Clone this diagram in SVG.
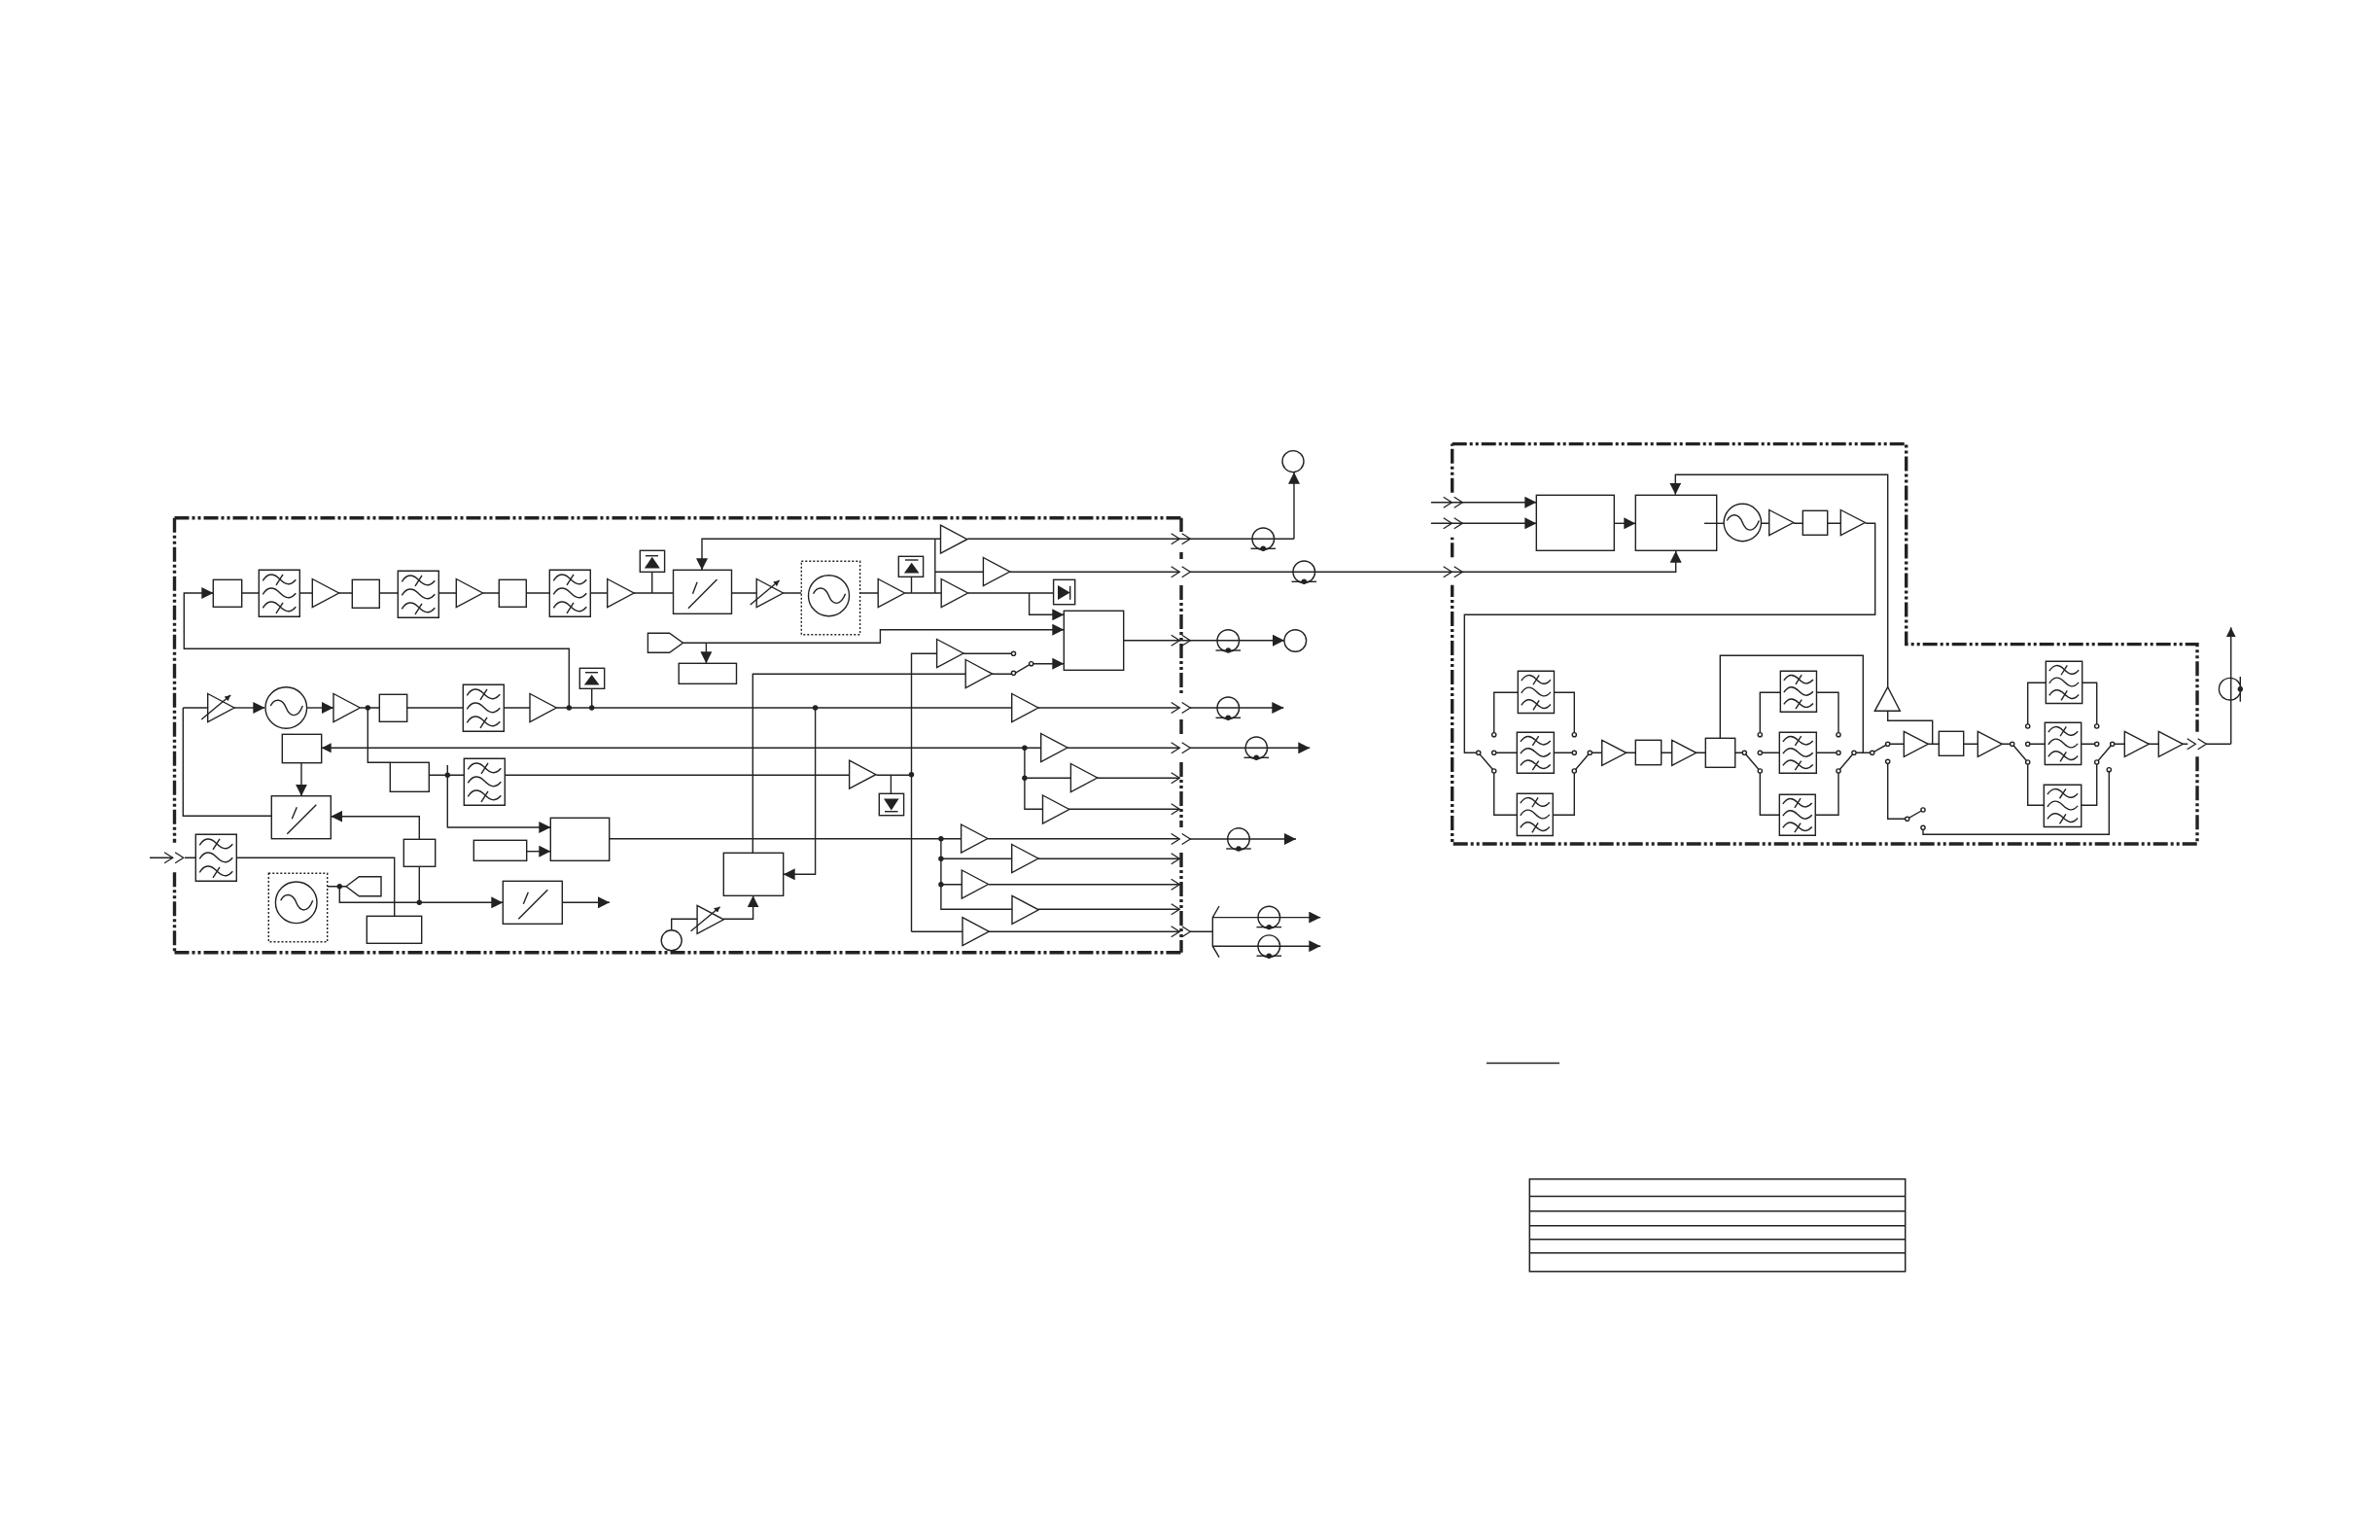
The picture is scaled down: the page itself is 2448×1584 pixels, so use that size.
<svg xmlns="http://www.w3.org/2000/svg" width="2448" height="1584" viewBox="0 0 2448 1584">
<style>
path,line,polyline,polygon,rect,circle{stroke:#222;stroke-width:1.4;fill:none}
.w{fill:#fff}
.bd{stroke:#222;stroke-width:3.4;fill:none;stroke-dasharray:15 3 3 3 3 3}
.k{fill:#222;stroke:none}
.a{marker-end:url(#ah)}
.s{marker-end:url(#as)}
.v{vector-effect:non-scaling-stroke}
.thin{stroke-width:1.3}
.dot{fill:#222;stroke:none}
.tb{stroke-width:1.5}
</style>
<defs>
<marker id="ah" markerUnits="userSpaceOnUse" markerWidth="12" markerHeight="12" refX="12" refY="6" orient="auto"><path d="M0 0L12 6L0 12Z" style="fill:#222;stroke:none"/></marker>
<marker id="as" markerUnits="userSpaceOnUse" markerWidth="10" markerHeight="10" refX="10" refY="5" orient="auto"><path d="M0 0L10 5L0 10Z" style="fill:#222;stroke:none"/></marker>
<marker id="at" markerUnits="userSpaceOnUse" markerWidth="6" markerHeight="6" refX="6" refY="3" orient="auto"><path d="M0 0L6 3L0 6Z" style="fill:#222;stroke:none"/></marker>
<g id="f"><rect class="w v" width="42" height="48"/><path class="v" d="M4 11C9 3 15 3 21 9S32 17 38 10M17.7 15.5L24.7 4.5M4 25C9 17 15 17 21 23S32 31 38 24M4 39C9 31 15 31 21 37S32 45 38 38M17.7 44.5L24.7 33.5"/></g>
<polygon id="a" class="w" points="0,-14.5 27.3,0 0,14.5"/>
<polygon id="b" class="w" points="0,-13 25,0 0,13"/>
<g id="va"><polygon points="0,-14.5 27.3,0 0,14.5"/><line x1="-6.5" y1="12" x2="23.5" y2="-13" style="marker-end:url(#at)"/></g>
<path id="sin" d="M-16-2C-12-10-4-10 0 0S12 11 17-2"/>
<g id="mx"><rect class="w" width="61" height="44"/><path d="M16 39L46 9M21 23.5L26 11.5"/></g>
<path id="cc" class="thin" d="M-8.6-5.5L0 0L-8.6 5.5M2.4-5.5L11 0L2.4 5.5"/>
<path id="c1" class="thin" d="M-8.6-5.5L0 0L-8.6 5.5"/>
<g id="cx"><circle r="11.3"/><circle class="dot" cy="10" r="2.7"/><line x1="-12.8" y1="10" x2="12.8" y2="10"/></g>
<circle id="t" class="w" r="2.1"/>
</defs>
<g id="borders">
<path class="bd" d="M179.5 532.8H1215"/>
<path class="bd" d="M179.5 979.8H1215"/>
<path class="bd" d="M179.5 532.8V866.7M179.5 897.3V979.8"/>
<path class="bd" d="M1215 532.8V547M1215 568V575M1215 602V715M1215 740V755M1215 784V851M1215 877V979.8"/>
<path class="bd" d="M1493.7 456.6H1960.7V662.6H2260V752.7M2260 778.3V868H1493.7V601.7M1493.7 573.3V552.7M1493.7 506.7V456.6"/>
</g>
<g id="connectors">
<path class="a" d="M585.3 728V667.3H189.3V610H219.3"/>
<path d="M248.7 610H266M308 610H321M348.3 610H362M390 610H409M451 610H469M496.7 610H513M541 610H565M607 610H624.7M652 610H692.5M752.5 610H778M805.4 610H824.3M884.6 610H903M930.7 610H968.2M937.5 593.3V610M670.7 588.3V610M961.8 554.3V610M961.8 588.3H1011.4"/>
<path class="a" d="M967.5 554.3H722V586.3"/>
<path d="M995 554.3H1331"/>
<path class="a" d="M1331 554.3V485.7"/>
<path d="M1038.6 588.3H1213.3M1224 588.3H1503M995.7 610H1083.6"/>
<path class="a" d="M1503 588.3H1723.7V566.7"/>
<path class="a" d="M1058.6 610V632.3H1094.3"/>
<path class="a" d="M702.5 661.3H905.4V647.7H1094.3"/>
<path class="a" d="M726.4 661.3V682.3"/>
<path d="M937.5 958.3V672.3H963.6M990.7 672.3H1040.5M774.3 877.3V693.3H993.2M1020.4 693.3H1042.5L1060.7 682.7"/>
<path class="a" d="M1062.7 682.7H1094.3"/>
<path class="a" d="M1155.7 658.7H1321"/>
<path d="M188.3 728H213.7M188.3 728V839.3H279.3"/>
<path class="a" d="M241 728H272.3"/>
<path class="a" d="M315.7 728H343"/>
<path d="M370.7 728H390.3M418.7 728H476.3M518.7 728H545M572.3 728H1040.7M1067.9 728H1213.3M1224 728H1271"/>
<path class="a" d="M1271 728H1320.3"/>
<path d="M608.7 708.3V728"/>
<path class="a" d="M838.6 728V899.3H805.7"/>
<path class="s" d="M1070.7 769.3H330.7"/>
<path d="M1098.2 769.3H1213.3M1053.9 769.3V832.3H1072.5M1053.9 800.3H1101.4M1128.2 800.3H1213.3M1099.3 832.3H1213.3"/>
<path class="a" d="M1224 769.3H1347.3"/>
<path class="a" d="M310 784.7V818.7"/>
<path d="M378.3 728V784.3H401.3M441.3 797.3H477.3M519.7 797.3H873.6M901.4 797.3H937.5M916.4 797.3V816.3M460.3 787V797.3"/>
<path class="a" d="M460.3 797.3V851H566.3"/>
<path class="a" d="M541.7 875.7H566.3"/>
<path d="M626.7 862.7H988.6M1016 862.7H1213.3M967.9 862.7V935.3H1041M967.9 883.3H1040.7M967.9 909.7H989.3M1067.5 883.3H1213.3M1017 909.7H1213.3M1067.9 935.3H1213.3M937.5 958.3H990M1017 958.3H1213.3"/>
<path class="a" d="M1224 863H1333"/>
<path d="M1224 958.3H1247.3M1254 932L1247.3 943.6V973.2L1254 984.6"/>
<path class="a" d="M1247.3 943.6H1358.3"/>
<path class="a" d="M1247.3 973.2H1358.3"/>
<path class="a" d="M690.7 957V945.3H717.1M744 945.3H774.6V921.3"/>
<path d="M154 882.3H177.7M190 882.3H201.3M243.7 882.3H405.7V942.3"/>
<path class="a" d="M431.3 863.3V839.7H340.3"/>
<path d="M431.3 891.3V928.3M336.7 911.7H356"/>
<path class="a" d="M349.3 911.7V928.3H517.3"/>
<path class="a" d="M578.3 928.3H627"/>
<path class="a" d="M1472 516.7H1580.3"/>
<path class="a" d="M1472 538.3H1580.3"/>
<path class="a" d="M1660.3 538.3H1682.3"/>
<path class="a" d="M1941.7 706.7V488.3H1723.3V508.7"/>
<path d="M1811.3 538.3H1819.7M1844.7 538.3H1854.3M1879.7 538.3H1893.3M1918.7 538.3H1928.7V632.3H1506.3V774.3H1520.7"/>
<path d="M1941.7 731.3V741.3H1987.7V765.3"/>
<path d="M1536.7 755.7V712.3H1561.3M1598.3 712.3H1619.3V755.7M1536.7 774.3H1560.3M1598.3 774.3H1619.3M1536.7 793V838.3H1560.3M1597.3 838.3H1619.3V793M1635.3 774.3H1647.7M1672 774.3H1682.3M1708.7 774.3H1719.7M1744.3 774.3H1754.3M1784.7 774.3H1794.3M1769.3 759.3V674.3H1916.3V774.3M1520.7 774.3L1536.7 793M1619.3 793L1635.3 774.3"/>
<path d="M1810.3 755.7V712.3H1831.3M1868.3 712.3H1891V755.7M1810.3 774.3H1830.3M1868.3 774.3H1891M1810.3 793V838.3H1830.3M1867.3 838.3H1891V793M1794.3 774.3L1810.3 793M1891 793L1907 774.3M1907 774.3H1925.7L1941.7 765.3H1958.3M1941.7 783.3V842.3H1961.7L1978 833M1978 851.3V858.3H2169.3V791.7"/>
<path d="M1983.3 765.3H1994.3M2019.7 765.3H2034.3M2059.3 765.3H2069.7L2085.7 784M2085.7 747V702.3H2104.3M2141.7 702.3H2156.7V747M2085.7 765.3H2103.3M2140.7 765.3H2156.7M2085.7 784V828.3H2102.3M2140.7 828.3H2156.7V784L2172.7 765.3H2185.3M2210 765.3H2220.3M2245.3 765.3H2250.3M2269 765.3H2294.7"/>
<path class="s" d="M2294.7 765.3V645.3"/>
<g id="chevrons">
<use href="#cc" x="1213.3" y="554.3"/><use href="#cc" x="1213.3" y="588.3"/><use href="#cc" x="1213.3" y="658.7"/><use href="#cc" x="1213.3" y="728"/><use href="#cc" x="1213.3" y="769.3"/><use href="#cc" x="1213.3" y="863"/><use href="#cc" x="1213.3" y="958.3"/>
<use href="#c1" x="1213.3" y="800.3"/><use href="#c1" x="1213.3" y="832.3"/><use href="#c1" x="1213.3" y="883.3"/><use href="#c1" x="1213.3" y="909.7"/><use href="#c1" x="1213.3" y="935.3"/>
<use href="#cc" x="177.7" y="882.3"/>
<use href="#cc" x="1493.3" y="516.7"/><use href="#cc" x="1493.3" y="538.3"/><use href="#cc" x="1493.3" y="588.3"/>
<use href="#cc" x="2258.3" y="765.3"/>
</g>
<g id="dots">
<circle class="dot" cx="378.3" cy="728" r="2.7"/><circle class="dot" cx="585.3" cy="728" r="2.7"/><circle class="dot" cx="608.7" cy="728" r="2.7"/><circle class="dot" cx="838.6" cy="728" r="2.7"/><circle class="dot" cx="1053.9" cy="769.3" r="2.7"/><circle class="dot" cx="1053.9" cy="800.3" r="2.7"/><circle class="dot" cx="460.3" cy="797.3" r="2.7"/><circle class="dot" cx="937.5" cy="796.7" r="2.7"/><circle class="dot" cx="967.9" cy="862.7" r="2.7"/><circle class="dot" cx="967.9" cy="883.3" r="2.7"/><circle class="dot" cx="967.9" cy="909.7" r="2.7"/><circle class="dot" cx="431.3" cy="928.3" r="2.7"/><circle class="dot" cx="349.3" cy="911.7" r="2.7"/>
</g>
</g>
<g id="box1"><rect class="w" x="219.3" y="596.3" width="29.4" height="28"/></g>
<g id="filter1"><use href="#f" x="266.3" y="586.3"/></g>
<g id="amp1"><use href="#a" x="321.3" y="610"/></g>
<g id="box2"><rect class="w" x="362.3" y="596.3" width="28" height="29"/></g>
<g id="filter2"><use href="#f" x="409.3" y="587.3"/></g>
<g id="amp2"><use href="#a" x="469.3" y="610"/></g>
<g id="box3"><rect class="w" x="513.3" y="596.3" width="28" height="28"/></g>
<g id="filter3"><use href="#f" x="565.3" y="586.3"/></g>
<g id="amp3"><use href="#a" x="624.7" y="610"/></g>
<g id="det1"><rect class="w" x="658.3" y="566.3" width="25.3" height="22"/><polygon class="k" points="662.8,584.5 670.8,572.8 678.8,584.5"/><line x1="664" y1="571.7" x2="677" y2="571.7"/></g>
<g id="mixer1"><rect class="w" x="692.5" y="586.3" width="60" height="45"/><path d="M707.9 625.7L737.5 596M712.5 610.7L717.1 598.7"/></g>
<g id="vamp1"><use href="#va" x="778.2" y="610"/></g>
<g id="osc1"><rect class="w" x="824.3" y="577.3" width="60.3" height="75.4" style="stroke-dasharray:2 2"/><circle cx="852.5" cy="612.7" r="21"/><use href="#sin" x="852.5" y="612.7"/></g>
<g id="amp4"><use href="#a" x="903.2" y="610"/></g>
<g id="det2"><rect class="w" x="924.3" y="572.3" width="25.3" height="21"/><polygon class="k" points="929.9,589.5 937.7,578.8 945.5,589.5"/><line x1="931" y1="576" x2="944.5" y2="576"/></g>
<g id="amp5"><use href="#a" x="967.5" y="554.7"/></g>
<g id="amp6"><use href="#a" x="1011.4" y="588"/></g>
<g id="amp7"><use href="#a" x="968.2" y="610"/></g>
<g id="det3"><rect class="w" x="1083.6" y="596.3" width="22.1" height="25.4"/><polygon class="k" points="1088,602 1100.7,609.5 1088,617"/><line x1="1100.7" y1="602.7" x2="1100.7" y2="616.7"/></g>
<g id="bigbox1"><rect class="w" x="1094.3" y="628.3" width="61.4" height="61"/></g>
<g id="pent1"><polygon class="w" points="666.4,651.3 688.6,651.3 702.5,661.3 688.6,671.3 666.4,671.3"/></g>
<g id="box4"><rect class="w" x="698.2" y="682.3" width="59.3" height="21"/></g>
<g id="amp8"><use href="#a" x="963.6" y="672"/></g>
<g id="amp9"><use href="#a" x="993.2" y="693"/></g>
<g id="sw1"><use href="#t" x="1042.5" y="672.3"/><use href="#t" x="1042.5" y="692.3"/><use href="#t" x="1060.7" y="682.7"/></g>
<g id="vamp2"><use href="#va" x="213.7" y="728"/></g>
<g id="osc2"><circle class="w" cx="294.3" cy="728" r="21.3"/><use href="#sin" x="294.3" y="728"/></g>
<g id="amp10"><use href="#a" x="343" y="728"/></g>
<g id="box5"><rect class="w" x="390.3" y="714.3" width="28.4" height="28"/></g>
<g id="filter4"><use href="#f" x="476.3" y="704.3"/></g>
<g id="amp11"><use href="#a" x="545" y="728"/></g>
<g id="det4"><rect class="w" x="596.3" y="687.3" width="25.4" height="21"/><polygon class="k" points="600.8,704.5 608.7,694 616.6,704.5"/><line x1="602" y1="691.7" x2="615" y2="691.7"/></g>
<g id="amp12"><use href="#a" x="1040.7" y="728"/></g>
<g id="box6"><rect class="w" x="290.3" y="755.3" width="40.4" height="29.4"/></g>
<g id="mixer2"><use href="#mx" x="279.3" y="818.7"/></g>
<g id="box7"><rect class="w" x="401.3" y="784.3" width="40" height="30"/></g>
<g id="filter5"><use href="#f" x="477.3" y="780.3"/></g>
<g id="amp13"><use href="#a" x="1070.7" y="769"/></g>
<g id="amp14"><use href="#a" x="1101.4" y="800"/></g>
<g id="amp15"><use href="#a" x="1072.5" y="832.5"/></g>
<g id="amp16"><use href="#a" x="873.6" y="796.7"/></g>
<g id="det5"><rect class="w" x="904.3" y="816.3" width="25.3" height="22.4"/><polygon class="k" points="909,821.5 924.6,821.5 916.8,833.5"/><line x1="910" y1="834.7" x2="923.5" y2="834.7"/></g>
<g id="bigbox2"><rect class="w" x="566.3" y="841.3" width="60.4" height="44"/></g>
<g id="box8"><rect class="w" x="487.3" y="864.3" width="54.4" height="21"/></g>
<g id="amp17"><use href="#a" x="988.6" y="862.5"/></g>
<g id="amp18"><use href="#a" x="1040.7" y="883"/></g>
<g id="amp19"><use href="#a" x="989.3" y="909.5"/></g>
<g id="amp20"><use href="#a" x="1041" y="935.8"/></g>
<g id="amp21"><use href="#a" x="990" y="958.2"/></g>
<g id="filter6"><use href="#f" x="201.3" y="858.3"/></g>
<g id="box9"><rect class="w" x="377.3" y="942.3" width="56.4" height="28"/></g>
<g id="box10"><rect class="w" x="415.3" y="863.3" width="32.4" height="28"/></g>
<g id="osc3"><rect class="w" x="276.3" y="898.3" width="60.4" height="70.4" style="stroke-dasharray:2 2"/><circle cx="304.7" cy="928.3" r="21.3"/><use href="#sin" x="304.7" y="928.3"/></g>
<g id="pent2"><polygon class="w" points="356,911.7 369.3,901.7 392,901.7 392,921.7 369.3,921.7"/></g>
<g id="mixer3"><use href="#mx" x="517.3" y="906.3"/></g>
<g id="bigbox3"><rect class="w" x="744.3" y="877.3" width="61.4" height="44"/></g>
<g id="vamp3"><use href="#va" x="717.1" y="945.8"/></g>
<g id="circ1"><circle class="w" cx="690.7" cy="967.3" r="10.5"/></g>
<g id="coax1"><use href="#cx" x="1299.3" y="554.3"/></g>
<g id="circ2"><circle cx="1330" cy="474.6" r="11"/></g>
<g id="coax2"><use href="#cx" x="1341.3" y="588.3"/></g>
<g id="coax3"><use href="#cx" x="1263.3" y="659"/></g>
<g id="circ3"><circle cx="1332.3" cy="659" r="11.3"/></g>
<g id="coax4"><use href="#cx" x="1263.3" y="728.3"/></g>
<g id="coax5"><use href="#cx" x="1292.3" y="769.3"/></g>
<g id="coax6"><use href="#cx" x="1274" y="863"/></g>
<g id="coax7"><use href="#cx" x="1305.3" y="943.6"/></g>
<g id="coax8"><use href="#cx" x="1305.3" y="973.2"/></g>
<g id="boxA"><rect class="w" x="1580.3" y="509.3" width="80" height="57"/></g>
<g id="boxB"><rect class="w" x="1682.3" y="509.3" width="83.4" height="57"/><line x1="1753" y1="538.3" x2="1773" y2="538.3"/></g>
<g id="osc4"><circle class="w" cx="1792.3" cy="537.5" r="19.2"/><use href="#sin" x="1792.3" y="537.5"/></g>
<g id="ampR1"><use href="#b" x="1819.7" y="537.5"/></g>
<g id="boxR1"><rect class="w" x="1854.3" y="525.3" width="25.4" height="25"/></g>
<g id="ampR2"><use href="#b" x="1893.3" y="537.5"/></g>
<g id="ampUp"><polygon class="w" points="1941.7,706.7 1928.3,731.3 1954.3,731.3"/></g>
<g id="fR1"><use href="#f" transform="translate(1561.3 690.3) scale(.885 .9)"/></g>
<g id="fR2"><use href="#f" transform="translate(1560.3 753.3) scale(.905 .875)"/></g>
<g id="fR3"><use href="#f" transform="translate(1560.3 816.3) scale(.88 .9)"/></g>
<g id="swR1"><use href="#t" x="1520.7" y="774.3"/><use href="#t" x="1536.7" y="755.7"/><use href="#t" x="1536.7" y="774.3"/><use href="#t" x="1536.7" y="793"/></g>
<g id="swR2"><use href="#t" x="1619.3" y="755.7"/><use href="#t" x="1619.3" y="774.3"/><use href="#t" x="1619.3" y="793"/><use href="#t" x="1635.3" y="774.3"/></g>
<g id="ampR3"><use href="#b" x="1647.7" y="774.3"/></g>
<g id="boxR2"><rect class="w" x="1682.3" y="761.3" width="26.4" height="25.4"/></g>
<g id="ampR4"><use href="#b" x="1719.7" y="774.3"/></g>
<g id="boxR3"><rect class="w" x="1754.3" y="759.3" width="30.4" height="30"/></g>
<g id="swR3"><use href="#t" x="1794.3" y="774.3"/><use href="#t" x="1810.3" y="755.7"/><use href="#t" x="1810.3" y="774.3"/><use href="#t" x="1810.3" y="793"/></g>
<g id="fR4"><use href="#f" transform="translate(1831.3 690.3) scale(.885 .875)"/></g>
<g id="fR5"><use href="#f" transform="translate(1830.3 753.3) scale(.905 .875)"/></g>
<g id="fR6"><use href="#f" transform="translate(1830.3 817.3) scale(.88 .875)"/></g>
<g id="swR4"><use href="#t" x="1891" y="755.7"/><use href="#t" x="1891" y="774.3"/><use href="#t" x="1891" y="793"/><use href="#t" x="1907" y="774.3"/></g>
<g id="swR5"><use href="#t" x="1925.7" y="774.3"/><use href="#t" x="1941.7" y="765.3"/><use href="#t" x="1941.7" y="783.3"/></g>
<g id="swR6"><use href="#t" x="1961.7" y="842.3"/><use href="#t" x="1978" y="833"/><use href="#t" x="1978" y="851.3"/><use href="#t" x="2169.3" y="791.7"/></g>
<g id="ampR5"><use href="#b" x="1958.3" y="765.3"/></g>
<g id="boxR4"><rect class="w" x="1994.3" y="752.3" width="25.4" height="25"/></g>
<g id="ampR6"><use href="#b" x="2034.3" y="765.3"/></g>
<g id="swR7"><use href="#t" x="2069.7" y="765.3"/><use href="#t" x="2085.7" y="747"/><use href="#t" x="2085.7" y="765.3"/><use href="#t" x="2085.7" y="784"/></g>
<g id="fR7"><use href="#f" transform="translate(2104.3 680.3) scale(.89 .9)"/></g>
<g id="fR8"><use href="#f" transform="translate(2103.3 743.3) scale(.89 .9)"/></g>
<g id="fR9"><use href="#f" transform="translate(2102.3 807.3) scale(.915 .9)"/></g>
<g id="swR8"><use href="#t" x="2156.7" y="747"/><use href="#t" x="2156.7" y="765.3"/><use href="#t" x="2156.7" y="784"/><use href="#t" x="2172.7" y="765.3"/></g>
<g id="ampR7"><use href="#b" x="2185.3" y="765.3"/></g>
<g id="ampR8"><use href="#b" x="2220.3" y="765.3"/></g>
<g id="coaxR"><circle cx="2293.7" cy="708.7" r="11.3"/><circle class="dot" cx="2304.3" cy="708.7" r="2.7"/><line x1="2304.3" y1="696" x2="2304.3" y2="721.7"/></g>
<g id="rule"><line class="tb" x1="1529" y1="1093.6" x2="1604" y2="1093.6"/></g>
<g id="table"><rect class="tb" x="1573.3" y="1212.8" width="386.4" height="95"/><path class="tb" d="M1573.3 1230.5H1959.7M1573.3 1245.8H1959.7M1573.3 1260.8H1959.7M1573.3 1274.8H1959.7M1573.3 1288.8H1959.7"/></g>
</svg>
